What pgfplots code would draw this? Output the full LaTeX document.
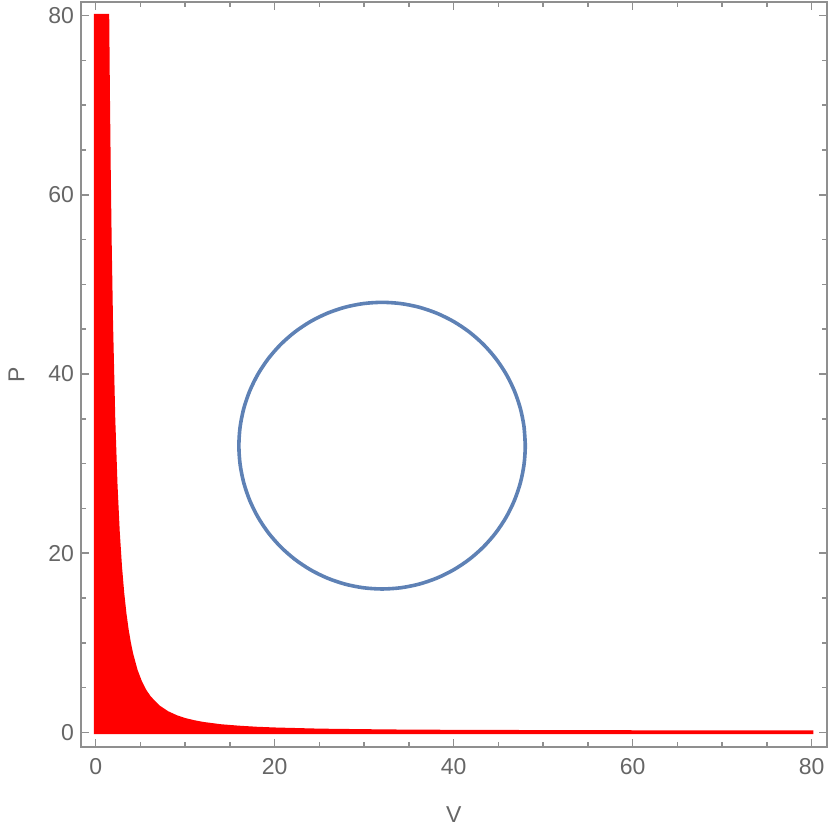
\documentclass[border=0pt]{standalone}
\usepackage{fontspec}
\setmainfont{Liberation Sans}
\usepackage{pgfplots}
\pgfplotsset{compat=1.18}
\definecolor{txt}{HTML}{666666}
\definecolor{frm}{HTML}{8F8F8F}
\definecolor{mblue}{HTML}{5E81B5}
\begin{document}
\begin{tikzpicture}
\useasboundingbox (-40.5pt,-44pt) rectangle (374.5pt,373.5pt);
\begin{axis}[
  at={(0,0)}, anchor=south west,
  scale only axis,
  width=372.85pt, height=372.5pt,
  xmin=-1.64, xmax=81.68, ymin=-1.64, ymax=81.53,
  xtick={0,20,...,80}, ytick={0,20,...,80},
  minor tick num=3,
  tick align=inside,
  major tick length=4pt, minor tick length=2.5pt,
  axis line style={frm, line width=0.8pt},
  every tick/.style={frm, line width=0.8pt},
  tick label style={font=\fontsize{11.5}{13}\selectfont, text=txt},
  label style={font=\fontsize{11.5}{13}\selectfont, text=txt},
  /pgf/number format/assume math mode=true,
  xticklabel shift=2.3pt,
  xlabel={V}, ylabel={P},
  xlabel style={at={(axis description cs:0.5,-0.0913)}, anchor=center},
  ylabel style={at={(axis description cs:-0.0865,0.5)}, anchor=center},
]
% region under P = k/V^2, capped at 80
\addplot[fill=red, draw=red, line width=1.7pt] coordinates {
  (0,0) (0,80) (1.323,80) (1.4,71.43) (1.5,62.22) (1.6,54.69) (1.75,45.71)
  (2,35) (2.25,27.65) (2.5,22.4) (2.75,18.51) (3,15.56) (3.25,13.25)
  (3.5,11.43) (3.75,9.96) (4,8.75) (4.5,6.91) (5,5.6) (5.5,4.63) (6,3.89)
  (7,2.86) (8,2.19) (9,1.73) (10,1.4) (11,1.16) (12,0.97) (14,0.71)
  (16,0.55) (18,0.43) (20,0.35) (25,0.22) (30,0.16) (35,0.11) (40,0.09)
  (50,0.06) (60,0.04) (70,0.03) (80,0.02) (80,0)
} -- cycle;
% circle, centre (32,32), radius 16
\addplot[mblue, line width=1.8pt, line join=round, smooth] coordinates {
  (48,32) (47.863,34.088) (47.455,36.141) (46.782,38.123) (45.856,40)
  (44.694,41.740) (43.314,43.314) (41.740,44.694) (40,45.856) (38.123,46.782)
  (36.141,47.455) (34.088,47.863) (32,48)
  (29.912,47.863) (27.859,47.455) (25.877,46.782) (24,45.856) (22.260,44.694)
  (20.686,43.314) (19.306,41.740) (18.144,40) (17.218,38.123) (16.545,36.141)
  (16.137,34.088) (16,32)
  (16.137,29.912) (16.545,27.859) (17.218,25.877) (18.144,24) (19.306,22.260)
  (20.686,20.686) (22.260,19.306) (24,18.144) (25.877,17.218) (27.859,16.545)
  (29.912,16.137) (32,16)
  (34.088,16.137) (36.141,16.545) (38.123,17.218) (40,18.144) (41.740,19.306)
  (43.314,20.686) (44.694,22.260) (45.856,24) (46.782,25.877) (47.455,27.859)
  (47.863,29.912) (48,32) (47.863,34.088)
};
\end{axis}
\end{tikzpicture}
\end{document}
